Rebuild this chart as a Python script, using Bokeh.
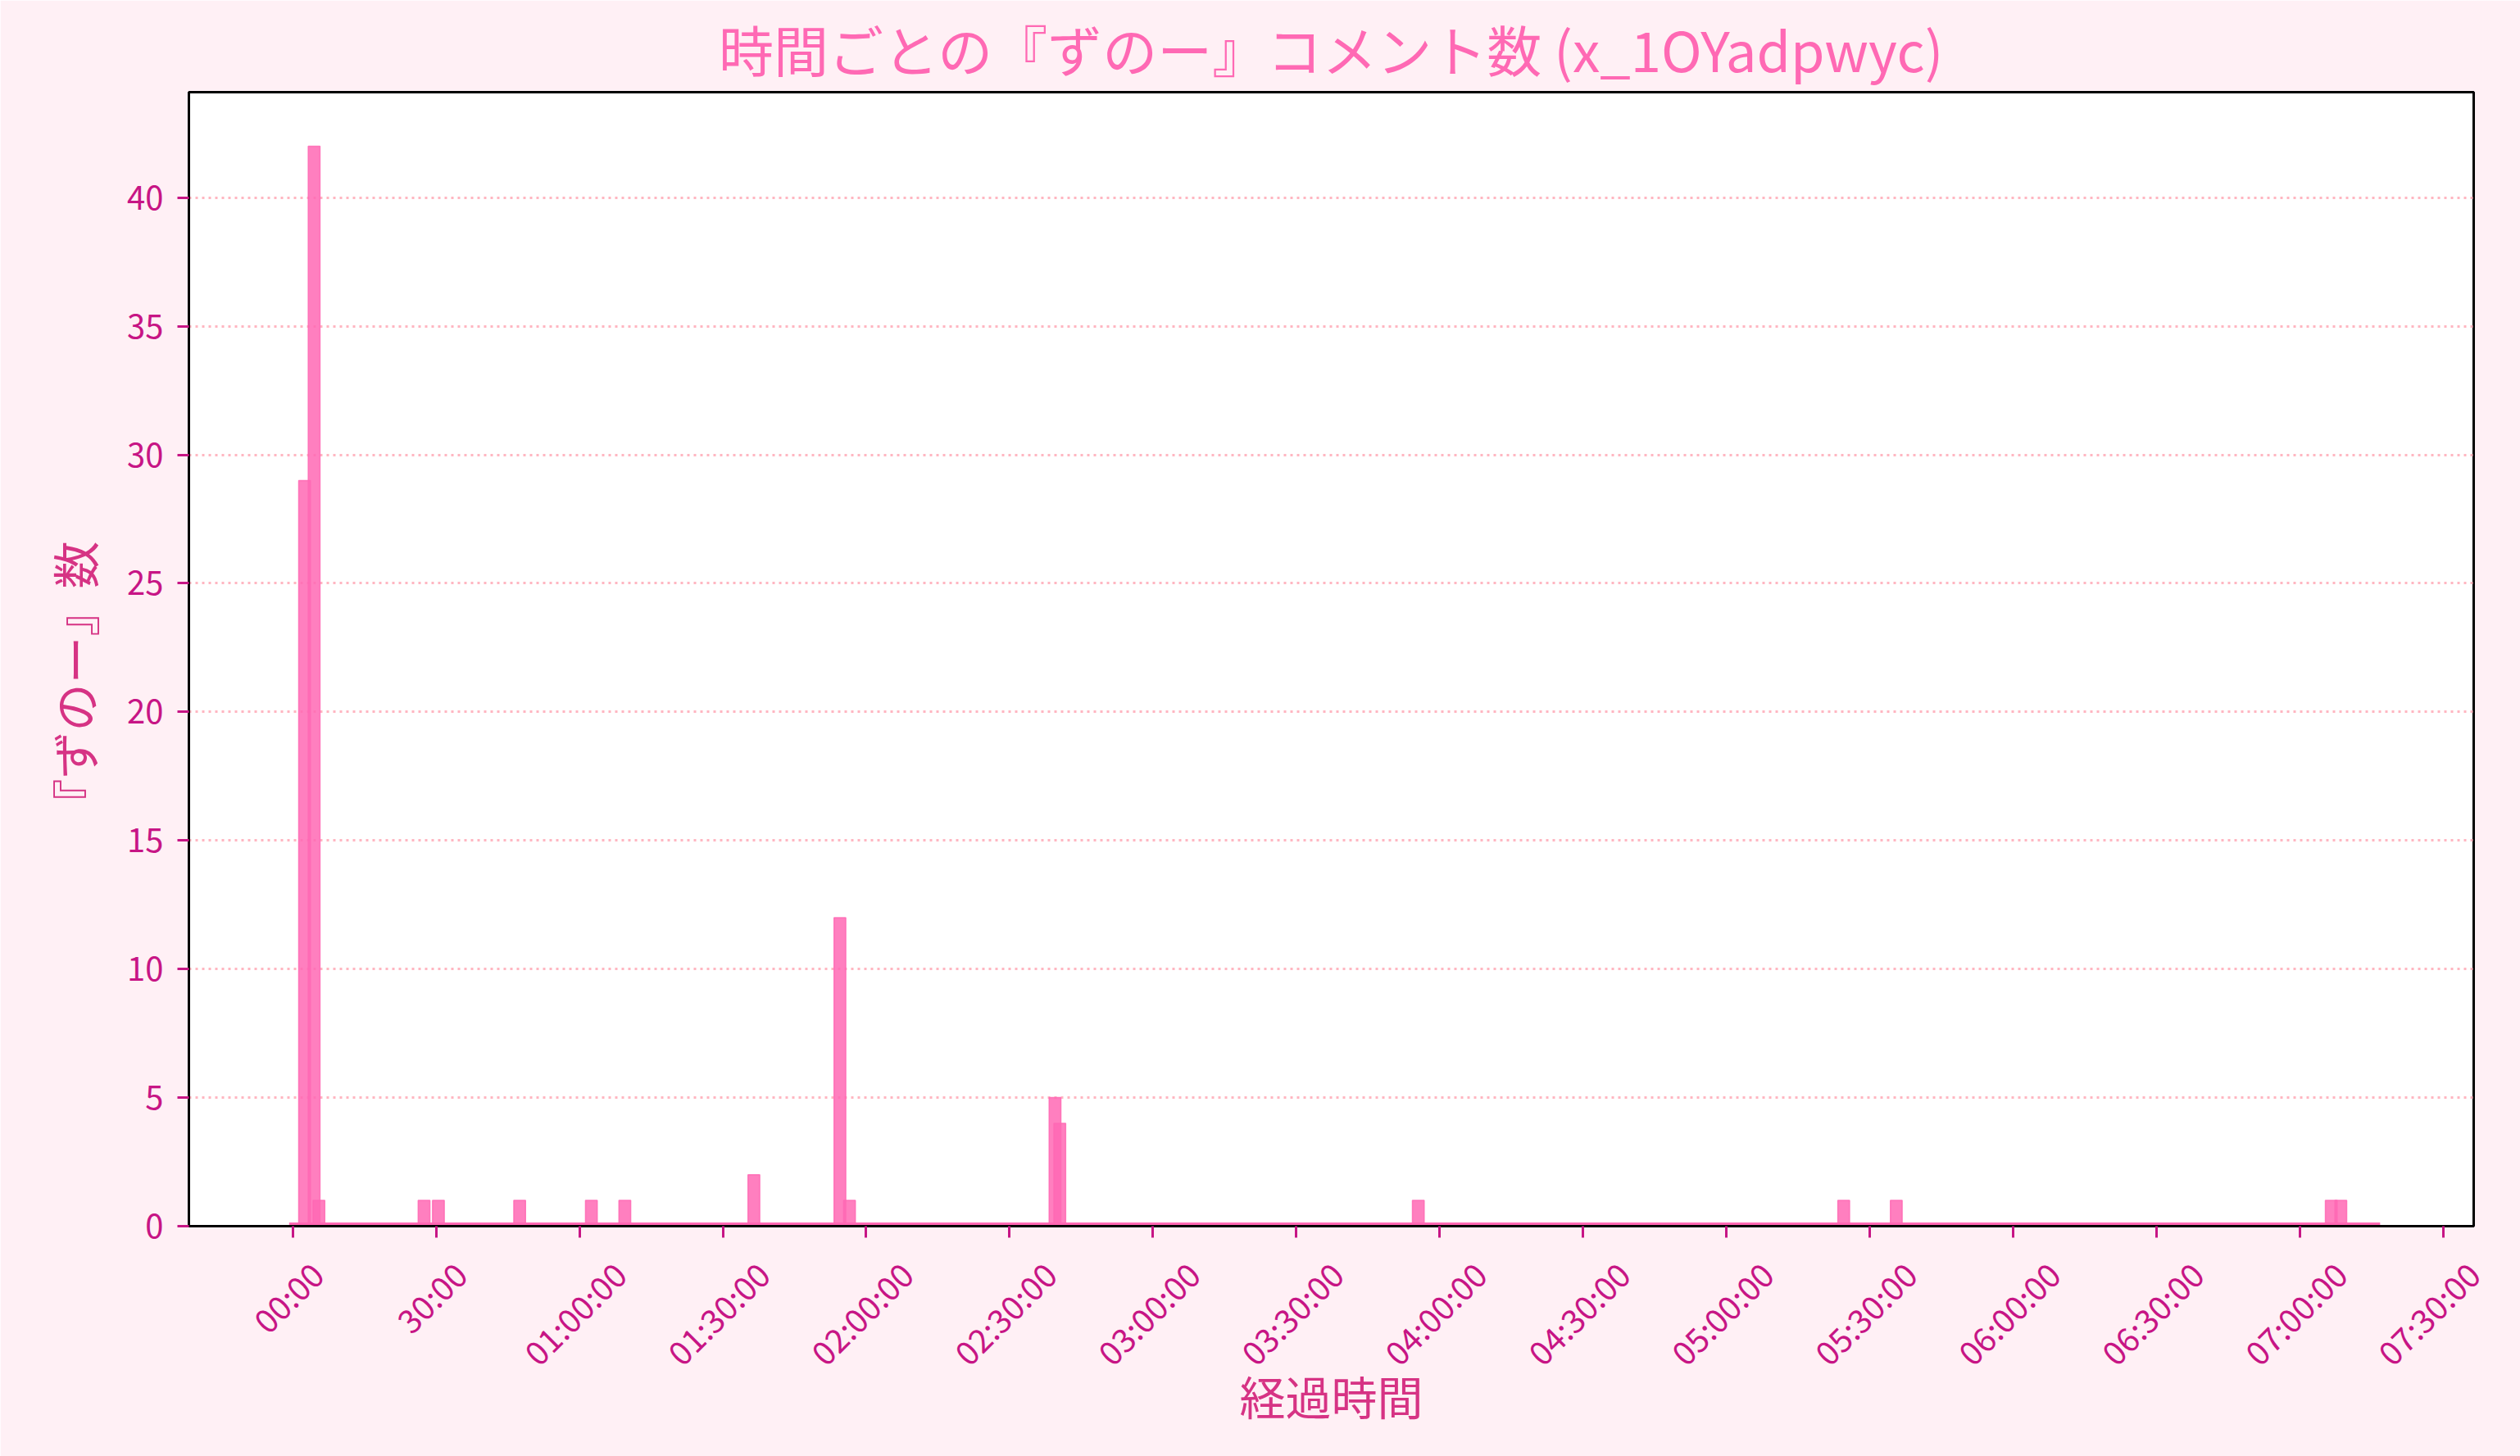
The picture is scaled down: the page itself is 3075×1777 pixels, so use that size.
import math
from bokeh.plotting import figure
from bokeh.models import (FixedTicker, ColumnDataSource, Range1d, LinearAxis, Title,
                          CustomJSTickFormatter)
from bokeh.embed import file_html
from bokeh.resources import INLINE

# ---------------- data ----------------
TITLE = "時間ごとの『ずのー』コメント数 (x_1OYadpwyc)"
X_LABEL = "経過時間"
Y_LABEL = "『ずのー』数"

# elapsed minutes that received comments, and the comment counts in those minutes
active_minutes = [2, 4, 5, 27, 30, 47, 62, 69, 96, 114, 116, 159, 160, 235, 324, 335, 426, 428]
active_counts = [29, 42, 1, 1, 1, 1, 1, 1, 2, 12, 1, 5, 4, 1, 1, 1, 1, 1]
last_minute = 435  # series covers minutes 0 .. 435

tick_minutes = [0, 30, 60, 90, 120, 150, 180, 210, 240, 270, 300, 330, 360, 390, 420, 450]
tick_labels = ["00:00", "30:00", "01:00:00", "01:30:00", "02:00:00", "02:30:00",
               "03:00:00", "03:30:00", "04:00:00", "04:30:00", "05:00:00", "05:30:00",
               "06:00:00", "06:30:00", "07:00:00", "07:30:00"]
y_ticks = [0, 5, 10, 15, 20, 25, 30, 35, 40]

# ---------------- styles ----------------
FONT = "Noto Sans CJK JP"
BAR = "#FF69B4"
TICK_COL = "#C71585"
LABEL_COL = "#D63384"
BG = "#FFF0F5"
BAR_W = 2.45
W, H = 3075, 1777
BL, BR, BT, BB = 230, 57, 112, 281

lookup = dict(zip(active_minutes, active_counts))
minutes = list(range(0, last_minute + 1))
counts = [lookup.get(m, 0) for m in minutes]
centers = [m + 0.5 for m in minutes]
src = ColumnDataSource(dict(x=centers, top=counts))
zsrc = ColumnDataSource(dict(x0=[c - BAR_W / 2 for c in centers],
                             x1=[c + BAR_W / 2 for c in centers],
                             y=[0] * len(centers)))

X0, X1 = -21.7, 456.3
Y0, Y1 = 0, 44.1
p = figure(width=W, height=H, output_backend="svg", toolbar_location=None,
           x_range=Range1d(X0, X1), y_range=Range1d(Y0, Y1),
           min_border_left=BL, min_border_right=BR, min_border_top=BT, min_border_bottom=BB)
p.background_fill_color = "white"
p.border_fill_color = BG
p.outline_line_color = "black"
p.outline_line_width = 3

# zero-height bars show as a thin strip on the baseline (lower half is clipped by the frame)
p.segment(x0="x0", x1="x1", y0="y", y1="y", source=zsrc,
          line_color=BAR, line_alpha=1.0, line_width=9)
p.vbar(x="x", top="top", bottom=0, width=BAR_W, source=src,
       fill_color=BAR, fill_alpha=0.85, line_color=BAR, line_alpha=0.85, line_width=1.5)

# title
p.title.text = TITLE
p.title.align = "center"
p.title.text_font = FONT
p.title.text_font_size = "67px"
p.title.text_font_style = "normal"
p.title.text_color = BAR
p.title.standoff = 12

# y axis
ya = p.yaxis[0]
ya.ticker = FixedTicker(ticks=y_ticks)
ya.axis_line_color = "black"
ya.axis_line_width = 3
ya.major_tick_line_color = TICK_COL
ya.major_tick_line_width = 3
ya.major_tick_out = 14
ya.major_tick_in = 0
ya.minor_tick_line_color = None
ya.major_label_text_font = FONT
ya.major_label_text_font_size = "40px"
ya.major_label_text_color = TICK_COL
ya.major_label_standoff = 17

# y axis title (offset up from the bottom of the frame)
p.add_layout(Title(text=Y_LABEL, align="left", offset=488, standoff=42,
                   text_font=FONT, text_font_size="58px", text_font_style="normal",
                   text_color=LABEL_COL), "left")

# x axis: tick marks at the true positions
xa = p.xaxis[0]
xa.ticker = FixedTicker(ticks=tick_minutes)
xa.axis_line_color = "black"
xa.axis_line_width = 3
xa.major_tick_line_color = TICK_COL
xa.major_tick_line_width = 3
xa.major_tick_out = 14
xa.major_tick_in = 0
xa.minor_tick_line_color = None
xa.major_label_text_font_size = "1px"
xa.major_label_standoff = 0
xa.formatter = CustomJSTickFormatter(code="return '';")

# x tick labels: rotated 45 deg and centred under each tick (matplotlib style).
# Bokeh right-aligns rotated labels at the anchor, so move each anchor right by
# half of the rotated label's horizontal extent (kept inside the range).
fs = 40.0
px_per_min = (W - BL - BR) / (X1 - X0)
def label_len(lbl):
    digits = sum(c.isdigit() for c in lbl)
    colons = lbl.count(":")
    return fs * (0.555 * digits + 0.27 * colons)

anchors = [min(t + label_len(l) / (2 * math.sqrt(2)) / px_per_min - 1.0, X1 - 0.1)
           for t, l in zip(tick_minutes, tick_labels)]
xb = LinearAxis(ticker=FixedTicker(ticks=anchors),
                formatter=CustomJSTickFormatter(args=dict(labels=tick_labels),
                                                code="return labels[index];"),
                axis_line_color=None, major_tick_line_color=None, minor_tick_line_color=None,
                major_tick_out=0, major_tick_in=0, major_label_standoff=37,
                major_label_orientation=math.pi / 4,
                major_label_text_font=FONT, major_label_text_font_size="40px",
                major_label_text_color=TICK_COL,
                axis_label=X_LABEL, axis_label_standoff=-39,
                axis_label_text_font=FONT, axis_label_text_font_size="56px",
                axis_label_text_font_style="normal", axis_label_text_color=LABEL_COL)
p.add_layout(xb, "below")

p.xgrid.grid_line_color = None
p.ygrid.grid_line_color = "#FFB6C1"
p.ygrid.grid_line_width = 3
p.ygrid.grid_line_dash = "3 5"

open("out.html", "w").write(file_html(p, INLINE))
